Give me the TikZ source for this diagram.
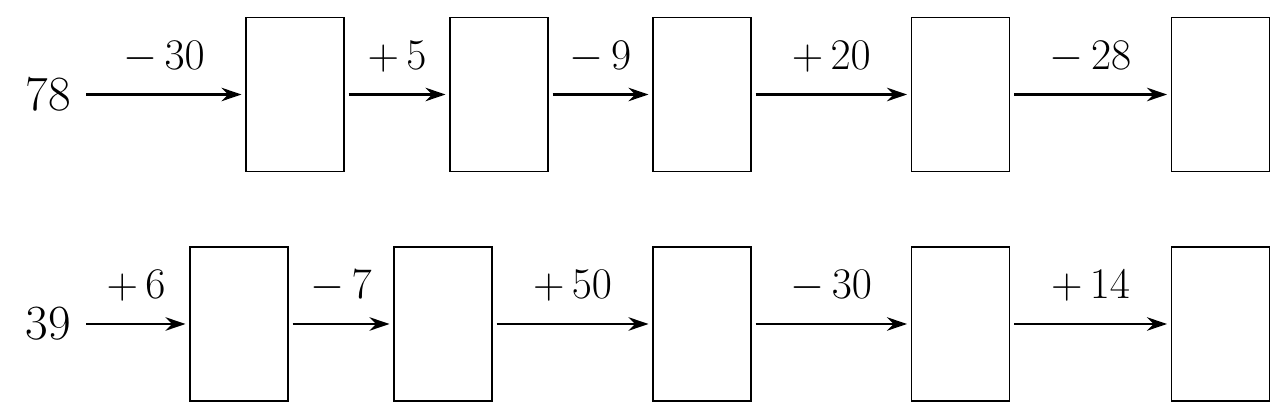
\documentclass[tikz,border=0pt]{standalone}
\usepackage{amsmath}
\usetikzlibrary{arrows.meta,positioning}

\begin{document}
\begin{tikzpicture}[
  font=\fontsize{28}{30}\selectfont,
  cell/.style={draw, line width=0.7pt, minimum width=1.96cm, minimum height=3.08cm, inner sep=0pt, outer sep=0.09cm},
  num/.style={inner xsep=0.3cm, inner ysep=0pt},
  arrow/.style={-{Stealth[length=0.4cm, width=0.27cm]}, line width=1.2pt},
  op/.style={midway, anchor=base, yshift=0.5cm}
]
\useasboundingbox (0,0) rectangle (25.66,8.26);

% top chain
\node[num] (a0) at (0.97,6.37) {78};
\node[cell] (a1) at (5.90,6.37) {};
\node[cell] (a2) at (9.98,6.37) {};
\node[cell] (a3) at (14.04,6.37) {};
\node[cell] (a4) at (19.21,6.37) {};
\node[cell] (a5) at (24.41,6.37) {};

\draw[arrow] (a0) -- (a1) node[op] {$-\,30$};
\draw[arrow] (a1) -- (a2) node[op] {$+\,5$};
\draw[arrow] (a2) -- (a3) node[op] {$-\,9$};
\draw[arrow] (a3) -- (a4) node[op] {$+\,20$};
\draw[arrow] (a4) -- (a5) node[op] {$-\,28$};

% bottom chain
\node[num] (b0) at (0.97,1.78) {39};
\node[cell] (b1) at (4.78,1.78) {};
\node[cell] (b2) at (8.86,1.78) {};
\node[cell] (b3) at (14.04,1.78) {};
\node[cell] (b4) at (19.21,1.78) {};
\node[cell] (b5) at (24.41,1.78) {};

\draw[arrow] (b0) -- (b1) node[op] {$+\,6$};
\draw[arrow] (b1) -- (b2) node[op] {$-\,7$};
\draw[arrow] (b2) -- (b3) node[op] {$+\,50$};
\draw[arrow] (b3) -- (b4) node[op] {$-\,30$};
\draw[arrow] (b4) -- (b5) node[op] {$+\,14$};

\end{tikzpicture}
\end{document}
